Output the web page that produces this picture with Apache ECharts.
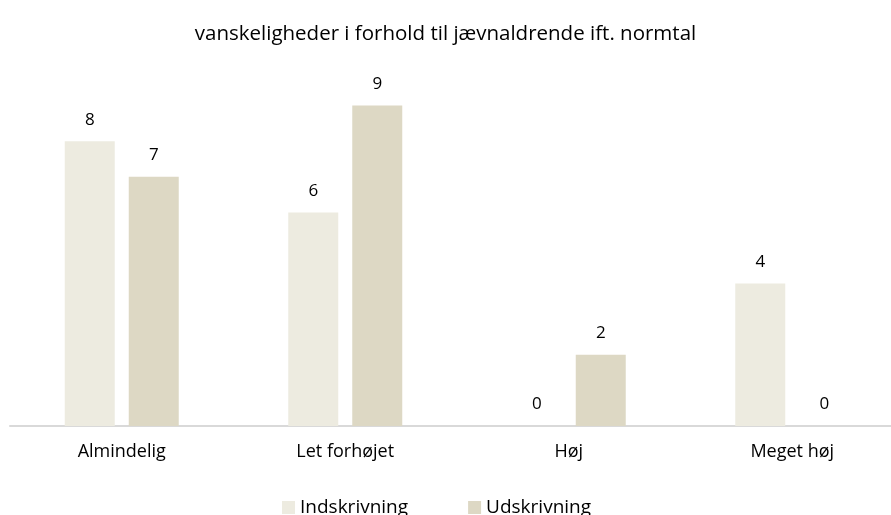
<!DOCTYPE html>
<html>
<head>
<meta charset="utf-8">
<script src="https://cdn.jsdelivr.net/npm/echarts@6/dist/echarts.min.js"></script>
<style>
  html, body { margin: 0; padding: 0; background: #fff; }
  #chart { width: 891px; height: 515px; }
</style>
</head>
<body>
<div id="chart"></div>
<script>
// data
var categories = ['Almindelig', 'Let forhøjet', 'Høj', 'Meget høj'];
var indskrivning = [8, 6, 0, 4];
var udskrivning = [7, 9, 2, 0];

var font = '"Open Sans", "Noto Sans", sans-serif';
var labelStyle = { show: true, position: 'top', distance: 13, color: '#000', fontSize: 17, fontFamily: font };

var chart = echarts.init(document.getElementById('chart'));
chart.setOption({
  animation: false,
  title: {
    text: 'vanskeligheder i forhold til jævnaldrende ift. normtal',
    left: 'center', top: 19,
    textStyle: { fontSize: 20.5, fontWeight: 'normal', color: '#000', fontFamily: font }
  },
  legend: {
    top: 493, left: 277, itemWidth: 13, itemHeight: 13, itemGap: 60,
    icon: 'rect',
    textStyle: { fontSize: 19, color: '#000', fontFamily: font }
  },
  grid: { left: 10, width: 894, top: 70, bottom: 89, outerBoundsMode: 'none', containLabel: false },
  xAxis: {
    type: 'category', data: categories,
    axisLine: { lineStyle: { color: '#d9d9d9', width: 2 } },
    axisTick: { show: false },
    axisLabel: { color: '#000', fontSize: 18, margin: 17, fontFamily: font }
  },
  yAxis: {
    type: 'value', min: 0, max: 10, show: false
  },
  series: [
    { name: 'Indskrivning', type: 'bar', data: indskrivning, barWidth: 50, barGap: '28%',
      itemStyle: { color: '#edebe0' }, label: labelStyle },
    { name: 'Udskrivning', type: 'bar', data: udskrivning, barWidth: 50,
      itemStyle: { color: '#ddd8c4' }, label: labelStyle }
  ]
});
</script>
</body>
</html>
